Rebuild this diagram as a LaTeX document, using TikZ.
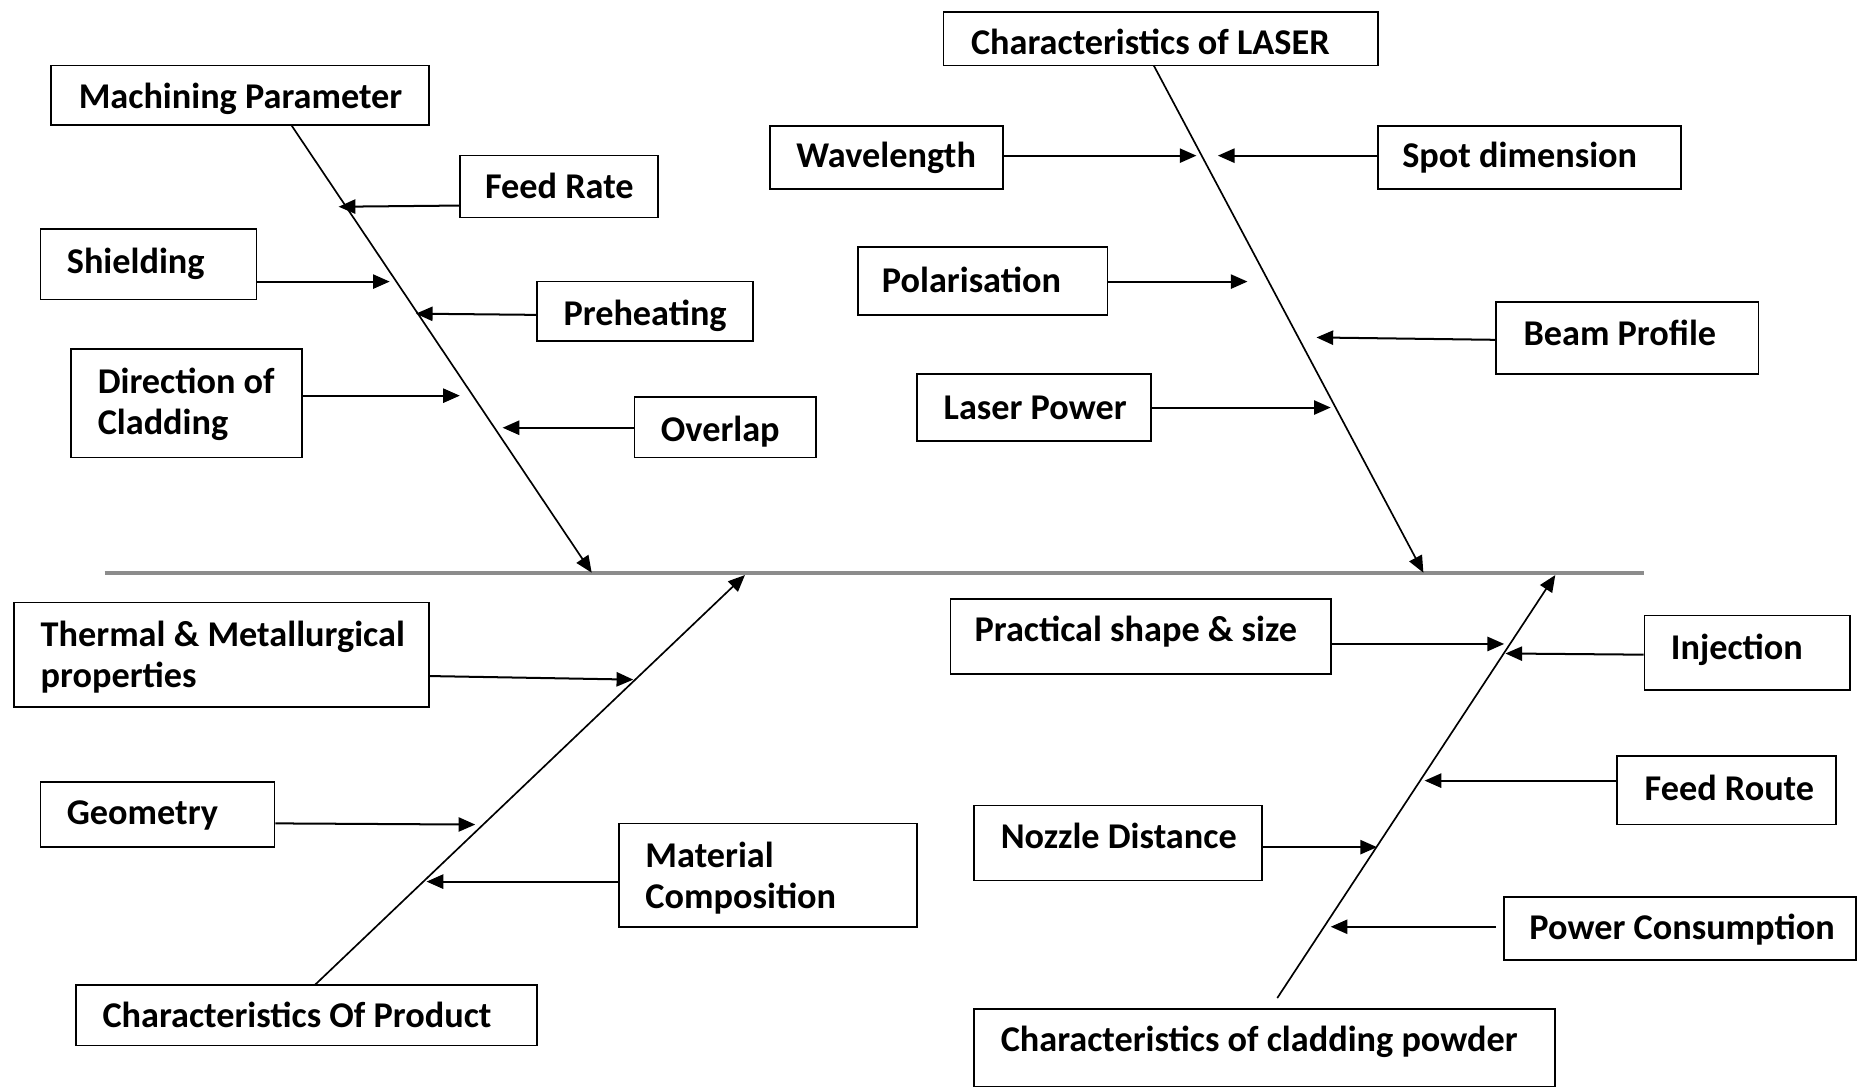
\documentclass[tikz,border=0pt]{standalone}
\usepackage{fontspec}
\setmainfont{Carlito}
\usetikzlibrary{arrows.meta,fit}
\begin{document}
\begin{tikzpicture}[x=0.025cm,y=-0.025cm,
 box/.style={draw=black,line width=1pt,inner sep=0pt},
 lbl/.style={anchor=base west,inner sep=0pt,font=\fontsize{21.7}{26}\selectfont\bfseries},
 arr/.style={line width=1.2pt,-{Triangle[length=10pt,width=8.5pt]}},
 bone/.style={line width=1pt,-{Triangle[length=10pt,width=8.5pt]}},
 spine/.style={line width=2.2pt,draw={rgb,255:red,140;green,140;blue,140}}
]
\useasboundingbox (0,0) rectangle (1568,916);
% spine
\coordinate (s0) at (88,482);
\coordinate (s1) at (1384,482);
\draw[spine] (s0) -- (s1);
% boxes
\node[box,fit={(43,55) (361,105)}] (mp) {};
\node[box,fit={(387,131) (554,183)}] (fr) {};
\node[box,fit={(34,193) (216,252)}] (sh) {};
\node[box,fit={(452,237) (634,287)}] (ph) {};
\node[box,fit={(60,294) (254,385)}] (dc) {};
\node[box,fit={(534,334) (687,385)}] (ov) {};
\node[box,fit={(794,10) (1160,55)}] (la) {};
\node[box,fit={(648,106) (844,159)}] (wl) {};
\node[box,fit={(1160,106) (1415,159)}] (sd) {};
\node[box,fit={(722,208) (932,265)}] (po) {};
\node[box,fit={(1259,254) (1480,315)}] (bp) {};
\node[box,fit={(772,315) (969,371)}] (lp) {};
\node[box,fit={(12,507) (361,595)}] (tm) {};
\node[box,fit={(34,658) (231,713)}] (ge) {};
\node[box,fit={(521,693) (772,780)}] (mc) {};
\node[box,fit={(64,829) (452,880)}] (cp) {};
\node[box,fit={(800,504) (1120,567)}] (ps) {};
\node[box,fit={(1384,518) (1557,581)}] (inj) {};
\node[box,fit={(1361,636) (1545,694)}] (fro) {};
\node[box,fit={(820,678) (1062,741)}] (nd) {};
\node[box,fit={(1266,755) (1562,808)}] (pc) {};
\node[box,fit={(820,849) (1309,914.5)}] (cc) {};
% labels
\node[lbl] (tmp) at (66,91) {Machining Parameter};
\node[lbl] (tfr) at (408,167) {Feed Rate};
\node[lbl] (tsh) at (56,230) {Shielding};
\node[lbl] (tph) at (474,274) {Preheating};
\node[lbl] (tdc1) at (82,331) {Direction of};
\node[lbl] (tdc2) at (82,366) {Cladding};
\node[lbl] (tov) at (556,372) {Overlap};
\node[lbl] (tla) at (817,46) {Characteristics of LASER};
\node[lbl] (twl) at (670,141) {Wavelength};
\node[lbl] (tsd) at (1180,141) {Spot dimension};
\node[lbl] (tpo) at (742,246) {Polarisation};
\node[lbl] (tbp) at (1282,291) {Beam Profile};
\node[lbl] (tlp) at (794,353) {Laser Power};
\node[lbl] (ttm1) at (34,544) {Thermal \& Metallurgical};
\node[lbl] (ttm2) at (34,579) {properties};
\node[lbl] (tge) at (56,694) {Geometry};
\node[lbl] (tmc1) at (543,730) {Material};
\node[lbl] (tmc2) at (543,765) {Composition};
\node[lbl] (tcp) at (86,865) {Characteristics Of Product};
\node[lbl] (tps) at (820,540) {Practical shape \& size};
\node[lbl] (tinj) at (1406,555) {Injection};
\node[lbl] (tfro) at (1384,674) {Feed Route};
\node[lbl] (tnd) at (842,714) {Nozzle Distance};
\node[lbl] (tpc) at (1287,791) {Power Consumption};
\node[lbl] (tcc) at (842,885) {Characteristics of cladding powder};
% bones
\coordinate (bmp0) at (245,105); \coordinate (bmp1) at (498,482);
\coordinate (bla0) at (971,55);  \coordinate (bla1) at (1198,482);
\coordinate (bcp0) at (265,829); \coordinate (bcp1) at (627,484);
\coordinate (bcc0) at (1075,840); \coordinate (bcc1) at (1309,484);
\draw[bone] (bmp0) -- (bmp1);
\draw[bone] (bla0) -- (bla1);
\draw[bone] (bcp0) -- (bcp1);
\draw[bone] (bcc0) -- (bcc1);
% branch tips
\coordinate (afr) at (285,174);
\coordinate (ash) at (328,237);
\coordinate (aph) at (350,264);
\coordinate (adc) at (387,333);
\coordinate (aov) at (423,360);
\coordinate (awl) at (1007,131);
\coordinate (asd) at (1025,131);
\coordinate (apo) at (1050,237);
\coordinate (abp) at (1108,284);
\coordinate (alp) at (1120,343);
\coordinate (atm) at (533,572);
\coordinate (age) at (400,694);
\coordinate (amc) at (359,742);
\coordinate (aps) at (1266,542);
\coordinate (ainj) at (1267,550);
\coordinate (afro) at (1199,657);
\coordinate (and) at (1159,713);
\coordinate (apc) at (1120,780);
% branches
\draw[arr] (fr.west |- 0,173) -- (afr);
\draw[arr] (sh.east |- ash) -- (ash);
\draw[arr] (ph.west |- 0,265) -- (aph);
\draw[arr] (dc.east |- adc) -- (adc);
\draw[arr] (ov.west |- aov) -- (aov);
\draw[arr] (wl.east |- awl) -- (awl);
\draw[arr] (sd.west |- asd) -- (asd);
\draw[arr] (po.east |- apo) -- (apo);
\draw[arr] (bp.west |- 0,286) -- (abp);
\draw[arr] (lp.east |- alp) -- (alp);
\draw[arr] (tm.east |- 0,569) -- (atm);
\draw[arr] (ge.east |- 0,693) -- (age);
\draw[arr] (mc.west |- amc) -- (amc);
\draw[arr] (ps.east |- aps) -- (aps);
\draw[arr] (inj.west |- 0,551) -- (ainj);
\draw[arr] (fro.west |- afro) -- (afro);
\draw[arr] (nd.east |- and) -- (and);
\draw[arr] ([xshift=-6*0.025cm]pc.west |- apc) -- (apc);
\end{tikzpicture}
\end{document}
